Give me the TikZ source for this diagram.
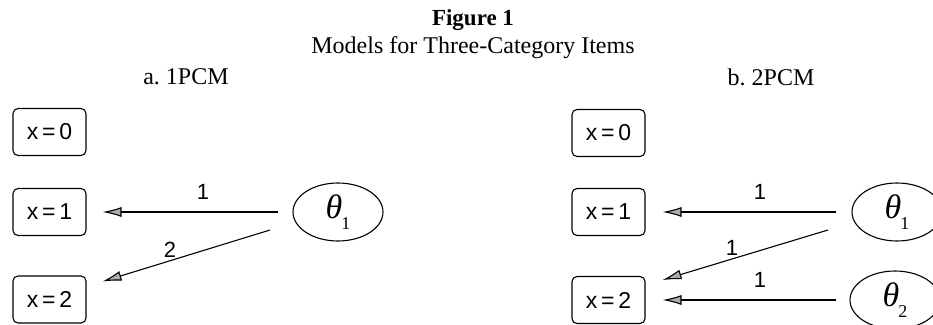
\documentclass[tikz,border=0pt]{standalone}
\usepackage{fontspec}
\setmainfont{Liberation Serif}
\setsansfont{Liberation Sans}
\usetikzlibrary{arrows.meta,shapes.geometric}
\tikzset{
  catbox/.style={draw,rounded corners=5pt,line width=1.1pt,minimum width=73pt,minimum height=47pt,inner sep=0pt,font=\sffamily\fontsize{23}{23}\selectfont},
  latent/.style={draw,ellipse,line width=1.1pt,minimum width=90pt,minimum height=58pt,inner sep=0pt},
  arr/.style={line width=1.1pt,-{Latex[length=19pt,width=10pt,fill=gray!65]}},
  wlab/.style={font=\sffamily\fontsize{22}{22}\selectfont,inner sep=0pt},
  ttl/.style={font=\fontsize{24}{24}\selectfont,inner sep=0pt}
}
\newcommand{\thetasub}[1]{{\fontsize{34}{34}\selectfont\itshape θ}\kern-1pt\raisebox{-11pt}{\fontsize{18}{18}\selectfont #1}}
\begin{document}
\frenchspacing
\begin{tikzpicture}[x=1pt,y=-1pt]
\useasboundingbox (0,0) rectangle (933,324);
% titles
\node[ttl,font=\bfseries\fontsize{23}{23}\selectfont] (fig) at (473,20) {Figure 1};
\node[ttl] (sub) at (473,48) {Models for Three-Category Items};
\node[ttl] (pa) at (186,77) {a. 1PCM};
\node[ttl] (pb) at (771,77) {b. 2PCM};
% panel a
\node[catbox] (a0) at (49.5,132) {x\,=\,0};
\node[catbox] (a1) at (49.5,212) {x\,=\,1};
\node[catbox] (a2) at (49.5,299.5) {x\,=\,2};
\node[latent] (at1) at (338,212) {\thetasub{1}};
\draw[arr] ([xshift=-14pt]at1.west) -- ([xshift=16pt]a1.east);
\draw[arr] ([shift={(-68,18)}]at1.center) -- ([shift={(16,-18)}]a2.east);
\node[wlab] (la1) at (203,192) {1};
\node[wlab] (la2) at (170,250) {2};
% panel b
\node[catbox] (b0) at (608.5,133) {x\,=\,0};
\node[catbox] (b1) at (608.5,212) {x\,=\,1};
\node[catbox] (b2) at (608.5,300) {x\,=\,2};
\node[latent] (bt1) at (897,212) {\thetasub{1}};
\node[latent] (bt2) at (895,300) {\thetasub{2}};
\draw[arr] ([xshift=-15pt]bt1.west) -- ([xshift=17pt]b1.east);
\draw[arr] ([shift={(-69,18)}]bt1.center) -- ([shift={(17,-20)}]b2.east);
\draw[arr] ([xshift=-13pt]bt2.west) -- ([xshift=17pt]b2.east);
\node[wlab] (lb1) at (760,192) {1};
\node[wlab] (lb2) at (732,248) {1};
\node[wlab] (lb3) at (760,280) {1};
\end{tikzpicture}
\end{document}
